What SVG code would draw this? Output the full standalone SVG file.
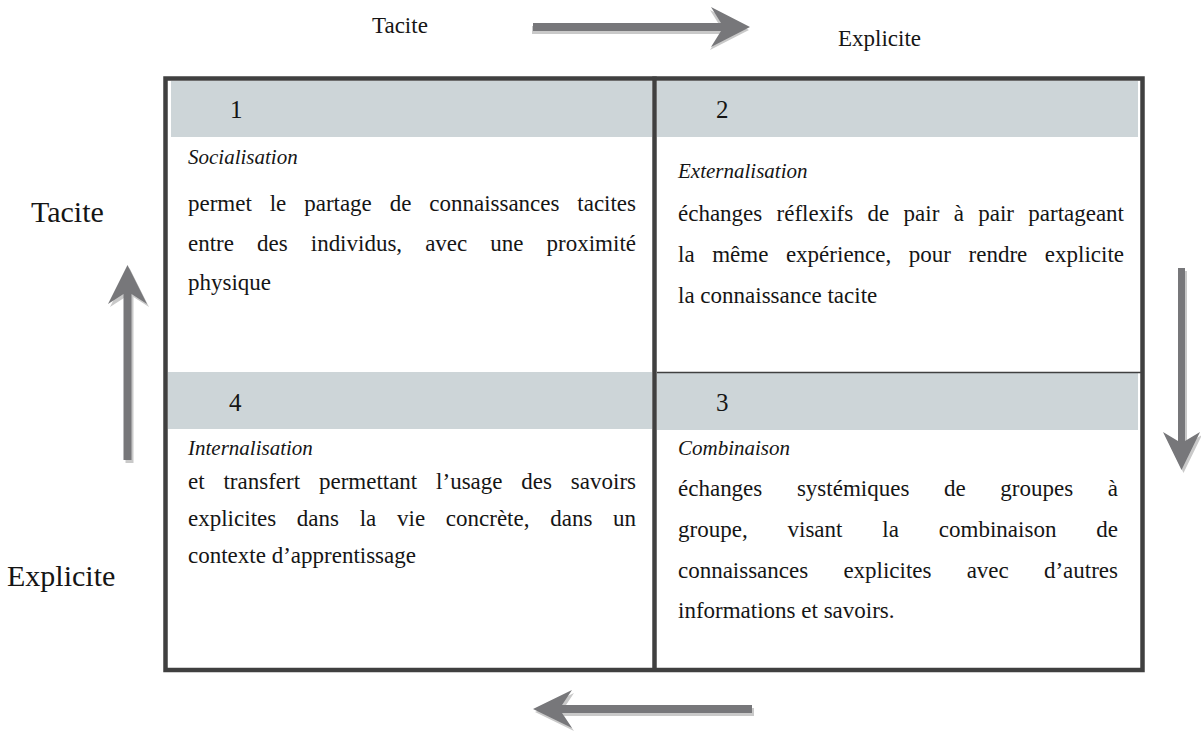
<svg xmlns="http://www.w3.org/2000/svg" width="1201" height="733" viewBox="0 0 1201 733">
<style>
.t{font-family:"Liberation Serif","Times New Roman",serif;fill:#151515}
.body{font-size:23px}
.lab{font-size:21px;font-style:italic}
.num{font-size:25px}
.axis{font-size:23px}
.axisL{font-size:30px}
.band{fill:#cdd5d8}
.frame{fill:none;stroke:#404040;stroke-width:4.5}
.div{stroke:#404040;stroke-width:4.5}
.thin{stroke:#404040;stroke-width:1.5}
.arr{fill:#77777a}
.sh{fill:#c9c9c9}
</style>
<defs>
<polygon id="aT" points="533,23 721,23 711,7 750,27 711,47 721,31 533,31"/>
<polygon id="aB" points="752,705 562,705 572,690 533,709 572,728 562,713 752,713"/>
<polygon id="aL" points="123.5,460 123.5,294 108,304 127.5,265 147,304 131.5,294 131.5,460"/>
<polygon id="aR" points="1178,268 1178,441 1163,432 1181.5,470 1200,432 1185,441 1185,268"/>
</defs>
<rect width="1201" height="733" fill="#ffffff"/>

<g id="axis-labels">
<text class="t axis" x="372" y="33">Tacite</text>
<text class="t axis" x="838" y="46">Explicite</text>
<text class="t axisL" x="31" y="222">Tacite</text>
<text class="t axisL" x="7" y="586">Explicite</text>
</g>

<g id="bands">
<rect class="band" x="171" y="81" width="481" height="56"/>
<rect class="band" x="657" y="81" width="481" height="56"/>
<rect class="band" x="168" y="372" width="484" height="57"/>
<rect class="band" x="657" y="373" width="481" height="57"/>
<line class="thin" x1="657" y1="372.5" x2="1142" y2="372.5"/>
</g>

<g id="frame">
<rect class="frame" x="165.5" y="78.5" width="977" height="591.5"/>
<line class="div" x1="654.5" y1="76.5" x2="654.5" y2="672"/>
</g>

<g id="cell-1">
<text class="t num" x="230" y="118">1</text>
<text class="t lab" x="188" y="164">Socialisation</text>
<text class="t body" x="188" y="211" style="word-spacing:12.2px" textLength="448" lengthAdjust="spacing">permet le partage de connaissances tacites</text>
<text class="t body" x="188" y="251" style="word-spacing:17.3px" textLength="448" lengthAdjust="spacing">entre des individus, avec une proximité</text>
<text class="t body" x="188" y="290">physique</text>
</g>

<g id="cell-2">
<text class="t num" x="716" y="118">2</text>
<text class="t lab" x="678" y="178">Externalisation</text>
<text class="t body" x="678" y="221" style="word-spacing:8.6px" textLength="446" lengthAdjust="spacing">échanges réflexifs de pair à pair partageant</text>
<text class="t body" x="678" y="262" style="word-spacing:11.8px" textLength="446" lengthAdjust="spacing">la même expérience, pour rendre explicite</text>
<text class="t body" x="678" y="303">la connaissance tacite</text>
</g>

<g id="cell-3">
<text class="t num" x="716" y="411">3</text>
<text class="t lab" x="678" y="455">Combinaison</text>
<text class="t body" x="678" y="496" style="word-spacing:28.9px" textLength="440" lengthAdjust="spacing">échanges systémiques de groupes à</text>
<text class="t body" x="678" y="537" style="word-spacing:34.1px" textLength="440" lengthAdjust="spacing">groupe, visant la combinaison de</text>
<text class="t body" x="678" y="578" style="word-spacing:29.5px" textLength="440" lengthAdjust="spacing">connaissances explicites avec d’autres</text>
<text class="t body" x="678" y="618">informations et savoirs.</text>
</g>

<g id="cell-4">
<text class="t num" x="229" y="411">4</text>
<text class="t lab" x="188" y="455">Internalisation</text>
<text class="t body" x="188" y="489" style="word-spacing:13.1px" textLength="448" lengthAdjust="spacing">et transfert permettant l’usage des savoirs</text>
<text class="t body" x="188" y="526" style="word-spacing:14.9px" textLength="448" lengthAdjust="spacing">explicites dans la vie concrète, dans un</text>
<text class="t body" x="188" y="563">contexte d’apprentissage</text>
</g>

<g id="connectors">
<use href="#aT" class="sh" transform="translate(-1,3)"/>
<use href="#aT" class="arr"/>
<use href="#aB" class="sh" transform="translate(2,3)"/>
<use href="#aB" class="arr"/>
<use href="#aL" class="sh" transform="translate(2,3)"/>
<use href="#aL" class="arr"/>
<use href="#aR" class="sh" transform="translate(2,3)"/>
<use href="#aR" class="arr"/>
</g>
</svg>
